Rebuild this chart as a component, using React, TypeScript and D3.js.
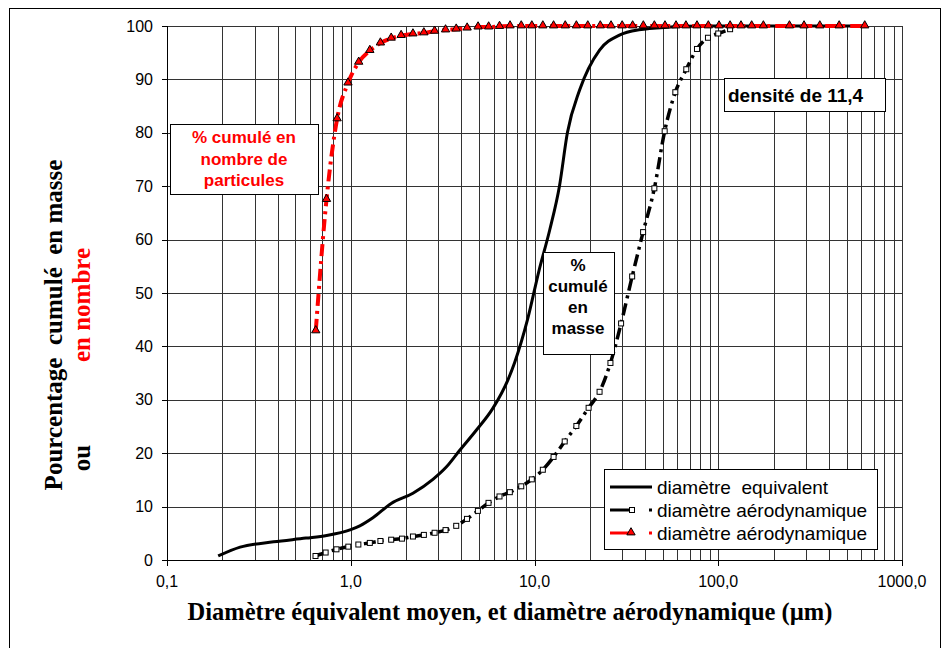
import { useEffect, useRef } from 'react';
import * as d3 from 'd3';

// diamètre équivalent (masse)
const eqX = [0.19, 0.25, 0.38, 0.57, 0.74, 1.0, 1.12, 1.32, 1.66, 2.18, 2.8, 3.31, 3.91, 4.82, 5.93, 7.16, 7.8, 9.16, 10.6, 12.1, 13.7, 15.1, 17.6, 22.6, 29, 37, 55, 80, 120, 200, 350, 530];
const eqY = [0.75, 2.4, 3.4, 4.1, 4.6, 5.7, 6.4, 7.9, 10.6, 12.5, 15.1, 17.4, 20.5, 24.3, 28.4, 33.7, 37, 45, 54.3, 61.8, 70.2, 80, 88, 95.5, 98.3, 99.3, 99.8, 100, 100, 100, 100, 100];

// diamètre aérodynamique (masse)
const aeroX = [0.643, 0.73, 0.836, 0.97, 1.1, 1.27, 1.45, 1.66, 1.9, 2.18, 2.5, 2.86, 3.28, 3.75, 4.29, 4.92, 5.62, 6.45, 7.34, 8.47, 9.67, 11.1, 12.7, 14.6, 16.9, 19.7, 22.6, 25.9, 29.6, 34.0, 39.0, 44.9, 51.1, 58.4, 67.0, 76.6, 87.9, 100, 116];
const aeroY = [0.75, 1.4, 2.0, 2.5, 2.9, 3.2, 3.56, 3.8, 4.0, 4.4, 4.7, 5.1, 5.6, 6.4, 7.7, 9.2, 10.7, 11.9, 12.7, 13.8, 15.1, 16.9, 19.3, 22.2, 25.1, 28.5, 31.5, 36.9, 44.3, 53.1, 61.4, 69.6, 80.3, 87.6, 91.9, 95.7, 97.8, 98.6, 99.4];

// diamètre aérodynamique (nombre)
const countX = [0.645, 0.738, 0.843, 0.966, 1.105, 1.27, 1.45, 1.66, 1.88, 2.18, 2.5, 2.86, 3.28, 3.75, 4.3, 4.93, 5.63, 6.45, 7.36, 8.47, 9.67, 11.1, 12.7, 14.7, 16.9, 19.5, 22.8, 26.1, 30, 34.2, 39.1, 44.9, 51.3, 58.9, 66.7, 76.6, 88.3, 101, 116, 133, 152, 176, 244, 293, 357, 455, 627];
const countY = [42.9, 67.5, 82.6, 89.3, 93.2, 95.4, 96.8, 97.7, 98.2, 98.5, 98.7, 99.0, 99.25, 99.4, 99.6, 99.8, 99.8, 99.9, 100, 100, 100, 100, 100, 100, 100, 100, 100, 100, 100, 100, 100, 100, 100, 100, 100, 100, 100, 100, 100, 100, 100, 100, 100, 100, 100, 100, 100];

const xTicks = [0.1, 1, 10, 100, 1000];
const xTickLabels = ['0,1', '1,0', '10,0', '100,0', '1000,0'];
const yTicks = [0, 10, 20, 30, 40, 50, 60, 70, 80, 90, 100];

const legendLabels = ['diamètre  equivalent', 'diamètre aérodynamique', 'diamètre aérodynamique'];

type Pt = { x: number; y: number };
const zip = (xs: number[], ys: number[]): Pt[] => xs.map((x, i) => ({ x, y: ys[i] }));

export default function App() {
  const svgRef = useRef<SVGSVGElement>(null);

  useEffect(() => {
    if (!svgRef.current) return;
    const svg = d3.select(svgRef.current);
    svg.selectAll('*').remove();

    const xScale = d3.scaleLog().domain([0.1, 1000]).range([167, 902]);
    const yScale = d3.scaleLinear().domain([0, 100]).range([560, 26]);
    const sans = 'Arial, "Liberation Sans", sans-serif';
    const serif = '"Times New Roman", "Liberation Serif", serif';

    // outer frame
    svg.append('rect')
      .attr('x', 9.5).attr('y', 8.5).attr('width', 931).attr('height', 700)
      .attr('fill', 'white').attr('stroke', '#000').attr('stroke-width', 1);

    const g = svg.append('g');

    // vertical grid (log minor + major)
    const vLines: number[] = [];
    for (let d = 0.1; d < 1000; d *= 10) {
      for (let k = 1; k <= 9; k++) vLines.push(+(d * k).toPrecision(3));
    }
    vLines.push(1000);
    g.selectAll('line.vg').data(vLines).enter().append('line')
      .attr('x1', d => Math.round(xScale(d)) + 0.5).attr('x2', d => Math.round(xScale(d)) + 0.5)
      .attr('y1', yScale(100)).attr('y2', yScale(0))
      .attr('stroke', '#333').attr('stroke-width', 1);

    g.selectAll('line.hg').data(yTicks).enter().append('line')
      .attr('x1', xScale(0.1)).attr('x2', xScale(1000))
      .attr('y1', d => Math.round(yScale(d)) + 0.5).attr('y2', d => Math.round(yScale(d)) + 0.5)
      .attr('stroke', '#333').attr('stroke-width', 1);

    // axes
    g.append('line')
      .attr('x1', Math.round(xScale(0.1)) + 0.5).attr('x2', Math.round(xScale(0.1)) + 0.5)
      .attr('y1', yScale(100)).attr('y2', yScale(0))
      .attr('stroke', '#000');
    g.append('line')
      .attr('x1', xScale(0.1)).attr('x2', xScale(1000))
      .attr('y1', Math.round(yScale(0)) + 0.5).attr('y2', Math.round(yScale(0)) + 0.5)
      .attr('stroke', '#000');

    g.selectAll('line.yt').data(yTicks).enter().append('line')
      .attr('x1', xScale(0.1) - 5).attr('x2', xScale(0.1))
      .attr('y1', d => Math.round(yScale(d)) + 0.5).attr('y2', d => Math.round(yScale(d)) + 0.5)
      .attr('stroke', '#000');
    g.selectAll('text.yl').data(yTicks).enter().append('text')
      .attr('x', 153).attr('y', d => yScale(d) + 5.5)
      .attr('text-anchor', 'end').attr('font-family', sans).attr('font-size', 16)
      .text(d => String(d));

    g.selectAll('line.xt').data(xTicks).enter().append('line')
      .attr('x1', d => Math.round(xScale(d)) + 0.5).attr('x2', d => Math.round(xScale(d)) + 0.5)
      .attr('y1', yScale(0)).attr('y2', yScale(0) + 6)
      .attr('stroke', '#000');
    g.selectAll('text.xl').data(xTicks).enter().append('text')
      .attr('x', d => xScale(d)).attr('y', 587)
      .attr('text-anchor', 'middle').attr('font-family', sans).attr('font-size', 16)
      .text((_, i) => xTickLabels[i]);

    // axis titles
    svg.append('text')
      .attr('x', 510).attr('y', 620)
      .attr('text-anchor', 'middle').attr('font-family', serif).attr('font-weight', 'bold').attr('font-size', 24.5)
      .text('Diamètre équivalent moyen, et diamètre aérodynamique (µm)');

    svg.append('text')
      .attr('transform', 'translate(62,325) rotate(-90)')
      .attr('text-anchor', 'middle').attr('font-family', serif).attr('font-weight', 'bold').attr('font-size', 25)
      .style('white-space', 'pre')
      .text('Pourcentage  cumulé  en masse');
    svg.append('text')
      .attr('transform', 'translate(90,458) rotate(-90)')
      .attr('text-anchor', 'middle').attr('font-family', serif).attr('font-weight', 'bold').attr('font-size', 25)
      .text('ou');
    svg.append('text')
      .attr('transform', 'translate(90,305) rotate(-90)')
      .attr('text-anchor', 'middle').attr('font-family', serif).attr('font-weight', 'bold').attr('font-size', 25)
      .attr('fill', '#ff0000')
      .text('en nombre');

    const line = d3.line<Pt>()
      .x(d => xScale(d.x))
      .y(d => yScale(d.y))
      .curve(d3.curveMonotoneX);

    const eq = zip(eqX, eqY);
    const aero = zip(aeroX, aeroY);
    const count = zip(countX, countY);

    g.append('path').datum(eq)
      .attr('fill', 'none').attr('stroke', '#000').attr('stroke-width', 3)
      .attr('d', line);

    g.append('path').datum(count)
      .attr('fill', 'none').attr('stroke', '#ff0000').attr('stroke-width', 4)
      .attr('stroke-dasharray', '12,5,3,5')
      .attr('d', line);

    g.append('path').datum(aero)
      .attr('fill', 'none').attr('stroke', '#000').attr('stroke-width', 3.5)
      .attr('stroke-dasharray', '12,5,3,5')
      .attr('d', line);

    g.selectAll('rect.sq').data(aero).enter().append('rect')
      .attr('x', d => xScale(d.x) - 2.5).attr('y', d => yScale(d.y) - 2.5)
      .attr('width', 5).attr('height', 5)
      .attr('fill', 'white').attr('stroke', '#000').attr('stroke-width', 1);

    const tri = d3.symbol().type(d3.symbolTriangle).size(30);
    g.selectAll('path.tri').data(count).enter().append('path')
      .attr('transform', d => `translate(${xScale(d.x)},${yScale(d.y) - 0.5})`)
      .attr('d', tri)
      .attr('fill', '#ff0000').attr('stroke', '#000').attr('stroke-width', 1);

    // annotation boxes
    const box = (x: number, y: number, w: number, h: number, lines: string[], color: string, cx: number, y0: number, dy: number, size: number, anchor = 'middle') => {
      svg.append('rect')
        .attr('x', x + 0.5).attr('y', y + 0.5).attr('width', w).attr('height', h)
        .attr('fill', 'white').attr('stroke', '#000').attr('stroke-width', 1);
      lines.forEach((t, i) => {
        svg.append('text')
          .attr('x', cx).attr('y', y0 + i * dy)
          .attr('text-anchor', anchor).attr('font-family', sans).attr('font-weight', 'bold').attr('font-size', size)
          .attr('fill', color)
          .text(t);
      });
    };
    box(170, 124, 148, 70, ['% cumulé en', 'nombre de', 'particules'], '#ff0000', 244, 143, 21.5, 17);
    box(543, 252, 71, 102, ['%', 'cumulé', 'en', 'masse'], '#000', 578, 271, 21, 17);
    box(724, 78, 161, 33, ['densité de 11,4'], '#000', 728, 101.5, 0, 19, 'start');

    // legend
    const lg = svg.append('g');
    lg.append('rect')
      .attr('x', 604.5).attr('y', 469.5).attr('width', 273).attr('height', 80)
      .attr('fill', 'white').attr('stroke', '#000').attr('stroke-width', 1);
    const ly = [487, 510, 533];
    lg.append('line').attr('x1', 610).attr('x2', 652).attr('y1', ly[0]).attr('y2', ly[0])
      .attr('stroke', '#000').attr('stroke-width', 3);
    lg.append('line').attr('x1', 610).attr('x2', 631).attr('y1', ly[1]).attr('y2', ly[1])
      .attr('stroke', '#000').attr('stroke-width', 3);
    lg.append('rect').attr('x', 649).attr('y', ly[1] - 1.5).attr('width', 3).attr('height', 3).attr('fill', '#000');
    lg.append('rect').attr('x', 629.5).attr('y', ly[1] - 2.5).attr('width', 5).attr('height', 5)
      .attr('fill', 'white').attr('stroke', '#000');
    lg.append('line').attr('x1', 610).attr('x2', 631).attr('y1', ly[2]).attr('y2', ly[2])
      .attr('stroke', '#ff0000').attr('stroke-width', 3);
    lg.append('rect').attr('x', 649).attr('y', ly[2] - 1.5).attr('width', 3).attr('height', 3).attr('fill', '#ff0000');
    lg.append('path').attr('transform', `translate(631,${ly[2] - 0.5})`).attr('d', tri)
      .attr('fill', '#ff0000').attr('stroke', '#000');
    legendLabels.forEach((t, i) => {
      lg.append('text')
        .attr('x', 657).attr('y', ly[i] + 6.5)
        .attr('font-family', sans).attr('font-size', 19)
        .style('white-space', 'pre')
        .text(t);
    });
  }, []);

  return (
    <svg
      ref={svgRef}
      width={946}
      height={648}
      style={{ position: 'absolute', left: 0, top: 0, background: 'white' }}
    />
  );
}
